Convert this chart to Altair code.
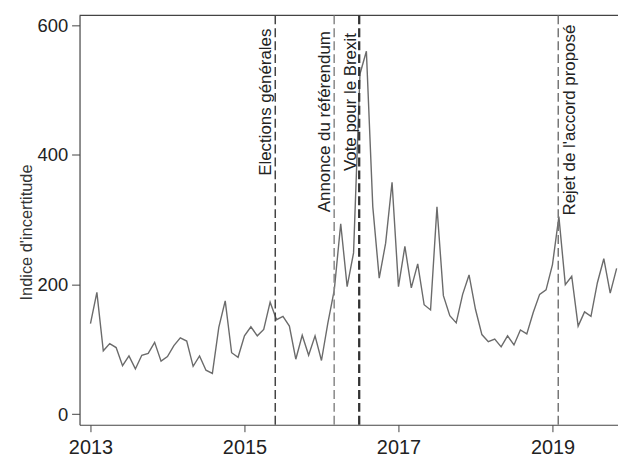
import altair as alt
import pandas as pd

# Monthly uncertainty index, Jan 2013 .. Nov 2019
start_year = 2013
values = [
    140, 188, 98, 109, 103, 75, 90, 70, 91, 94, 111, 82,          # 2013
    89, 106, 118, 113, 74, 90, 68, 63, 134, 175, 95, 88,          # 2014
    121, 135, 121, 131, 173, 146, 151, 136, 85, 122, 91, 121,     # 2015
    83, 141, 192, 294, 197, 249, 525, 560, 320, 210, 264, 358,    # 2016
    197, 259, 195, 232, 169, 161, 320, 183, 152, 141, 185, 215,   # 2017
    162, 123, 112, 116, 104, 121, 107, 130, 124, 157, 185, 192,   # 2018
    231, 305, 200, 213, 136, 158, 151, 203, 240, 187, 225,        # 2019
]
months = [start_year + i / 12 for i in range(len(values))]

event_labels = ["Elections générales", "Annonce du référendum",
                "Vote pour le Brexit", "Rejet de l'accord proposé"]
event_dates = [2015.40, 2016.165, 2016.49, 2019.075]
label_ends = [595, 591, 588, 601]

y_ticks = [0, 200, 400, 600]
x_ticks = [2013, 2015, 2017, 2019]

W, H = 542, 412
FONT = "Liberation Sans"

df = pd.DataFrame({"t": months, "v": values})

xscale = alt.Scale(domain=[2012.858, 2019.851], nice=False, zero=False)
yscale = alt.Scale(domain=[-16.1, 615.3], nice=False, zero=False)

line = alt.Chart(df).mark_line(color="#6b6b6b", strokeWidth=1.4).encode(
    x=alt.X("t:Q", scale=xscale,
            axis=alt.Axis(values=x_ticks, format="d", title=None, grid=False,
                          labelFontSize=20, labelFont=FONT, labelColor="#222",
                          tickSize=7, labelPadding=6, domainColor="#444",
                          tickColor="#444", domainWidth=1.2, labelFlush=False)),
    y=alt.Y("v:Q", scale=yscale,
            axis=alt.Axis(values=y_ticks, title="Indice d'incertitude", grid=False,
                          labelFontSize=18.5, labelFont=FONT, labelColor="#222",
                          tickSize=8, labelPadding=4, domainColor="#444",
                          tickColor="#444", domainWidth=1.2,
                          titleFont=FONT, titleFontSize=16.5,
                          titleFontWeight="normal", titleColor="#333",
                          titleX=-45, titleY=218)),
)

top = alt.Chart(pd.DataFrame({"a": [0]})).mark_rule(color="#444", strokeWidth=1.2).encode(
    y=alt.value(0), x=alt.value(0), x2=alt.value(W)
)

styles = [
    # color, width, dy
    ("#444444", 1.5, -4),
    ("#888888", 1.5, -4),
    ("#333333", 2.3, -3),
    ("#777777", 1.5, 17),
]

layers = [line, top]
for lab, d, ye, (c, w, dy) in zip(event_labels, event_dates, label_ends, styles):
    ed = pd.DataFrame({"t": [d], "y": [ye], "label": [lab]})
    layers.append(
        alt.Chart(ed).mark_rule(color=c, strokeWidth=w, strokeDash=[9, 4]).encode(
            x=alt.X("t:Q", scale=xscale)
        )
    )
    layers.append(
        alt.Chart(ed).mark_text(angle=270, align="right", baseline="alphabetic",
                                dy=dy, fontSize=17, font=FONT, color="#222").encode(
            x=alt.X("t:Q", scale=xscale),
            y=alt.Y("y:Q", scale=yscale),
            text="label:N",
        )
    )

chart = alt.layer(*layers).properties(
    width=W, height=H,
    autosize=alt.AutoSizeParams(type="none"),
    padding={"left": 72, "top": 6, "right": 0, "bottom": 31},
).configure_view(stroke=None)

chart.save("out.html", embed_options={"renderer": "svg", "actions": False})
